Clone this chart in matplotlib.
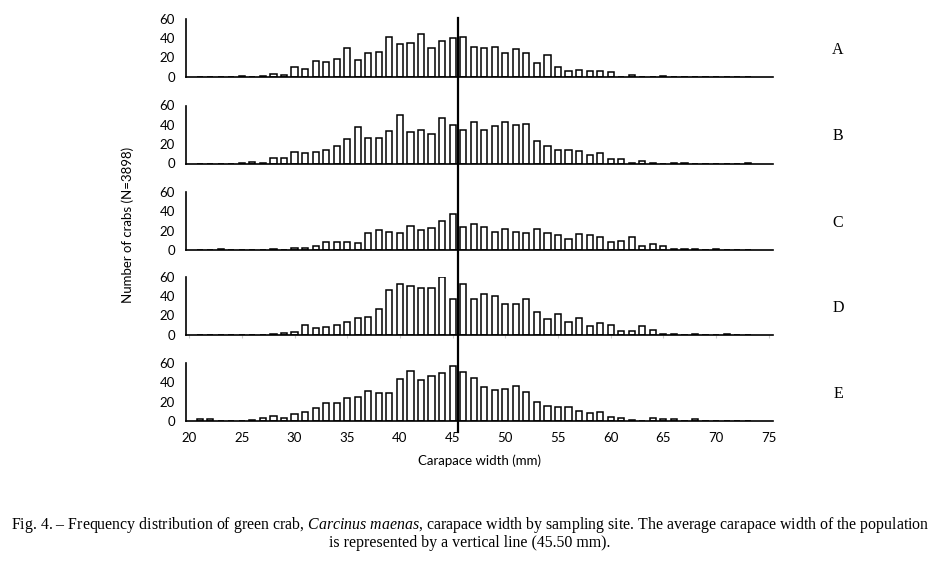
import numpy as np
import matplotlib
matplotlib.use("Agg")
import matplotlib.pyplot as plt
from matplotlib.lines import Line2D
from matplotlib.transforms import blended_transform_factory

plt.rcParams.update({
    "font.family": "Lato",
    "mathtext.fontset": "custom",
    "mathtext.rm": "Liberation Serif",
    "mathtext.it": "Liberation Serif:italic",
})

# carapace width classes (mm), 21..73
width_mm = list(range(21, 74))

site_a = [0, 0, 0, 0, 1, 0, 1, 3, 2, 10, 8, 16, 15, 18, 30, 17, 24, 25, 41, 34,
          35, 44, 30, 37, 40, 41, 31, 30, 31, 24, 28, 24, 14, 22, 10, 6, 7, 6, 6, 5,
          0, 2, 0, 0, 1, 0, 0, 0, 0, 0, 0, 0, 0]
site_b = [0, 0, 0, 0, 1, 2, 1, 6, 6, 12, 11, 12, 14, 18, 25, 38, 26, 26, 34, 50,
          33, 35, 31, 47, 40, 35, 43, 35, 39, 43, 40, 41, 23, 18, 14, 14, 13, 9, 11, 5,
          5, 1, 3, 1, 0, 1, 1, 0, 0, 0, 0, 0, 1]
site_c = [0, 0, 1, 0, 0, 0, 0, 1, 0, 2, 2, 4, 8, 8, 8, 7, 18, 21, 19, 18,
          25, 21, 23, 30, 37, 24, 27, 24, 19, 22, 19, 18, 22, 18, 16, 11, 17, 16, 13, 8,
          9, 13, 4, 6, 4, 1, 1, 1, 0, 1, 0, 0, 0]
site_d = [0, 0, 0, 0, 0, 0, 0, 1, 2, 3, 10, 7, 8, 10, 13, 17, 18, 26, 46, 52,
          50, 48, 48, 60, 37, 52, 37, 42, 40, 32, 32, 37, 23, 16, 21, 13, 17, 9, 12, 10,
          4, 4, 9, 5, 1, 1, 0, 1, 0, 0, 1, 0, 0]
site_e = [2, 2, 0, 0, 0, 1, 3, 5, 3, 7, 9, 13, 19, 19, 24, 25, 31, 29, 29, 43,
          52, 42, 47, 50, 57, 51, 44, 35, 32, 33, 36, 30, 20, 16, 14, 14, 10, 8, 9, 4,
          3, 1, 0, 3, 2, 2, 0, 2, 0, 0, 0, 0, 0]

sites = ["A", "B", "C", "D", "E"]
site_counts = [site_a, site_b, site_c, site_d, site_e]
mean_width = 45.5
x_ticks = [20, 25, 30, 35, 40, 45, 50, 55, 60, 65, 70, 75]
y_ticks = [0, 20, 40, 60]

W, H = 939, 570
fig = plt.figure(figsize=(W / 100, H / 100), dpi=100)
fig.patch.set_facecolor("white")

bases = [76.5, 163.5, 250, 334.5, 421]   # pixel rows of each x axis
panel_h = 58
left, right = 186, 773

axes = []
for i, (name, counts) in enumerate(zip(sites, site_counts)):
    ax = fig.add_axes([left / W, 1 - bases[i] / H, (right - left) / W, panel_h / H])
    ax.bar(width_mm, counts, width=0.58, facecolor="white",
           edgecolor="black", linewidth=1.1)
    ax.set_xlim(19.7, 75.4)
    ax.set_ylim(0, 60)
    ax.set_yticks(y_ticks)
    ax.set_xticks(x_ticks)
    for s in ["top", "right"]:
        ax.spines[s].set_visible(False)
    for s in ["left", "bottom"]:
        ax.spines[s].set_linewidth(1.2)
    ax.tick_params(axis="y", length=0, pad=8, labelsize=9.5)
    if i == 4:
        ax.tick_params(axis="x", length=0, pad=8, labelsize=9.5)
    elif i == 3:
        ax.tick_params(axis="x", length=2, color="#cccccc", labelbottom=False)
    else:
        ax.tick_params(axis="x", length=0, labelbottom=False)
    ax.patch.set_alpha(0)
    fig.text(838 / W, 1 - (bases[i] - 27) / H, name, family="Liberation Serif",
             fontsize=11.5, ha="center", va="center")
    axes.append(ax)

# average width line across all panels
trans = blended_transform_factory(axes[-1].transData, fig.transFigure)
fig.add_artist(Line2D([mean_width, mean_width], [1 - 432 / H, 1 - 18 / H],
                      transform=trans, color="black", lw=1.6))

fig.text(480 / W, 1 - 461 / H, "Carapace width (mm)", fontsize=9.5,
         ha="center", va="center")
fig.text(128 / W, 1 - 225 / H, "Number of crabs (N=3898)", fontsize=9.5,
         ha="center", va="center", rotation=90)

caption = ("Fig. 4. \u2013 Frequency distribution of green crab, $\\it{Carcinus\\ maenas}$, "
           "carapace width by sampling site. The average carapace width of the population\n"
           "is represented by a vertical line (45.50 mm).")
fig.text(470 / W, 1 - 533 / H, caption, family="Liberation Serif", fontsize=11.4,
         ha="center", va="center", multialignment="center", linespacing=1.05)

fig.savefig("out.png", dpi=100, facecolor="white")
